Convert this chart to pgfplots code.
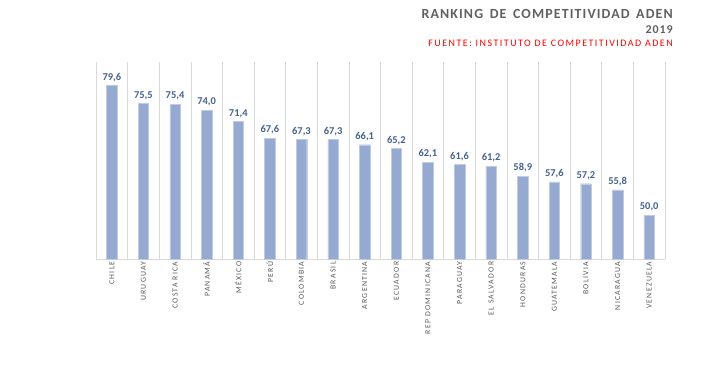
\documentclass[border=0pt]{standalone}
\usepackage{pgfplots}
\pgfplotsset{compat=1.18}
\usepackage{fontspec}
\setmainfont{Carlito}
\newfontfamily\spaced[LetterSpace=16]{Carlito}
\newfontfamily\titlefont[LetterSpace=8]{Carlito}
\newfontfamily\redfont[LetterSpace=15]{Carlito}
\definecolor{barc}{HTML}{95A9D1}
\definecolor{valc}{HTML}{44628F}
\definecolor{gridc}{HTML}{D9D9D9}
\definecolor{tickc}{HTML}{595959}
\definecolor{titc}{HTML}{606060}
\definecolor{redc}{HTML}{FF0000}
\begin{document}
\begin{tikzpicture}[x=1bp,y=1bp]
\path[use as bounding box] (0,0) rectangle (713,366);
\begin{axis}[
  at={(96bp,107bp)}, anchor=south west,
  scale only axis, width=569bp, height=197bp,
  xmin=-0.5, xmax=17.5, ymin=40, ymax=85,
  ybar, bar width=10.5bp,
  axis x line*=bottom, axis y line=none,
  x axis line style={draw=gridc, line width=0.8pt},
  xtick={0,...,17},
  xticklabels={CHILE,URUGUAY,COSTA RICA,PANAMÁ,MÉXICO,PERÚ,COLOMBIA,BRASIL,ARGENTINA,ECUADOR,REP DOMINICANA,PARAGUAY,EL SALVADOR,HONDURAS,GUATEMALA,BOLIVIA,NICARAGUA,VENEZUELA},
  xticklabel style={rotate=90, anchor=east, font=\spaced\fontsize{7.8}{8}\selectfont, text=tickc, inner sep=2.5pt},
  major tick length=0pt, minor tick length=0pt,
  minor xtick={-0.5,0.5,...,17.5},
  xminorgrids, minor x grid style={draw=gridc, line width=0.6pt},
  /pgf/number format/.cd, use comma, fixed, fixed zerofill, precision=1, assume math mode=true,
  /pgfplots/.cd,
  nodes near coords,
  every node near coord/.append style={font=\bfseries\fontsize{10.5}{11}\selectfont, text=valc, yshift=0.5bp},
  clip=false,
]
\addplot[fill=barc, draw=barc!60!white, line width=0.4pt] coordinates {
(0,79.6) (1,75.5) (2,75.4) (3,74.0) (4,71.4) (5,67.6) (6,67.3) (7,67.3) (8,66.1) (9,65.2)
(10,62.1) (11,61.6) (12,61.2) (13,58.9) (14,57.6) (15,57.2) (16,55.8) (17,50.0)};
\end{axis}
\node[anchor=base east, inner sep=0pt, font=\titlefont\bfseries\fontsize{14}{15}\selectfont, text=titc] at (673,348) {RANKING\, DE\, COMPETITIVIDAD\, ADEN};
\node[anchor=base east, inner sep=0pt, font=\titlefont\bfseries\fontsize{12}{13}\selectfont, text=titc] at (673,333) {2019};
\node[anchor=base east, inner sep=0pt, font=\redfont\fontsize{10}{11}\selectfont, text=redc] at (673,320) {FUENTE: INSTITUTO DE COMPETITIVIDAD ADEN};
\end{tikzpicture}
\end{document}
